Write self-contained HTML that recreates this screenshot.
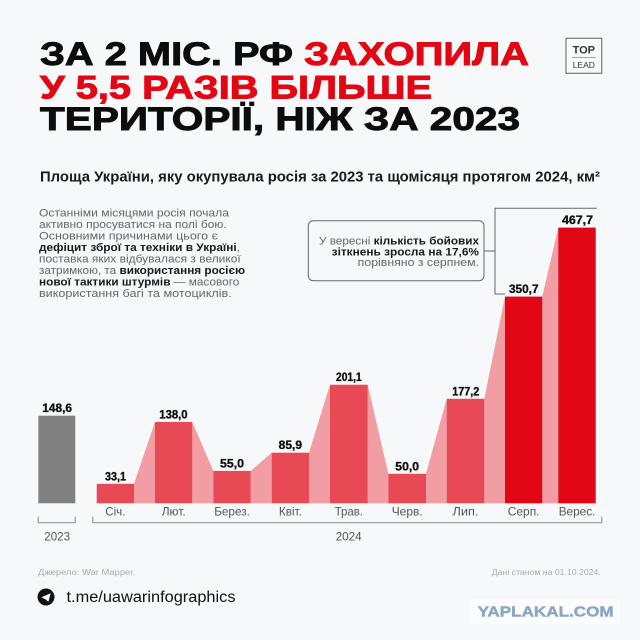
<!DOCTYPE html>
<html>
<head>
<meta charset="utf-8">
<style>
  html,body{margin:0;padding:0;background:#f6f8fa;}
  svg{display:block;}
  text{font-family:"Liberation Sans","DejaVu Sans",sans-serif;}
</style>
</head>
<body>
<svg width="640" height="640" viewBox="0 0 640 640" xmlns="http://www.w3.org/2000/svg">
  <rect x="0" y="0" width="640" height="640" fill="#f6f8fa"/>

  <!-- Title -->
  <g font-weight="bold" font-size="32" stroke-width="0.9" lengthAdjust="spacingAndGlyphs">
    <text x="40" y="65" fill="#0d0d0d" stroke="#0d0d0d" textLength="253" lengthAdjust="spacingAndGlyphs">ЗА 2 МІС. РФ</text>
    <text x="304" y="65" fill="#e30613" stroke="#e30613" textLength="225" lengthAdjust="spacingAndGlyphs">ЗАХОПИЛА</text>
    <text x="40" y="98.3" fill="#e30613" stroke="#e30613" textLength="392" lengthAdjust="spacingAndGlyphs">У 5,5 РАЗІВ БІЛЬШЕ</text>
    <text x="40" y="130" fill="#0d0d0d" stroke="#0d0d0d" textLength="480" lengthAdjust="spacingAndGlyphs">ТЕРИТОРІЇ, НІЖ ЗА 2023</text>
  </g>

  <!-- TOP LEAD logo -->
  <rect x="566" y="38.3" width="35.7" height="35" fill="#fbfcfd" stroke="#777" stroke-width="1.2"/>
  <text x="583.8" y="53.5" font-size="11" font-weight="bold" fill="#333" text-anchor="middle">TOP</text>
  <line x1="572" y1="57.5" x2="596" y2="57.5" stroke="#d58aa0" stroke-width="1"/>
  <text x="583.8" y="68" font-size="8.5" fill="#333" text-anchor="middle">LEAD</text>

  <!-- Subtitle -->
  <text x="40" y="181.7" font-size="14.5" font-weight="bold" fill="#1a1a1a" textLength="560" lengthAdjust="spacingAndGlyphs">Площа України, яку окупувала росія за 2023 та щомісяця протягом 2024, км²</text>

  <!-- Left paragraph -->
  <g font-size="11" fill="#666">
    <text x="39" y="216.5" textLength="190" lengthAdjust="spacingAndGlyphs">Останніми місяцями росія почала</text>
    <text x="39" y="228" textLength="187.7" lengthAdjust="spacingAndGlyphs">активно просуватися на полі бою.</text>
    <text x="39" y="239.5" textLength="179" lengthAdjust="spacingAndGlyphs">Основними причинами цього є</text>
    <text x="39" y="251" textLength="201" lengthAdjust="spacingAndGlyphs"><tspan font-weight="bold" fill="#1a1a1a">дефіцит зброї та техніки в Україні</tspan>,</text>
    <text x="39" y="262.5" textLength="201.7" lengthAdjust="spacingAndGlyphs">поставка яких відбувалася з великої</text>
    <text x="39" y="274" textLength="206" lengthAdjust="spacingAndGlyphs">затримкою, та <tspan font-weight="bold" fill="#1a1a1a">використання росією</tspan></text>
    <text x="39" y="285.5" textLength="200.3" lengthAdjust="spacingAndGlyphs"><tspan font-weight="bold" fill="#1a1a1a">нової тактики штурмів</tspan> — масового</text>
    <text x="39" y="297" textLength="192.7" lengthAdjust="spacingAndGlyphs">використання багі та мотоциклів.</text>
  </g>

  <!-- Callout -->
  <rect x="308.3" y="220.7" width="175.7" height="60" rx="5" ry="5" fill="none" stroke="#666" stroke-width="1"/>
  <path d="M484,251 H495 M596.7,208.3 H495 V294 H505" fill="none" stroke="#666" stroke-width="1"/>
  <g font-size="11" fill="#666">
    <text x="319" y="244.5" textLength="160" lengthAdjust="spacingAndGlyphs">У вересні <tspan font-weight="bold" fill="#1a1a1a">кількість бойових</tspan></text>
    <text x="331.7" y="255.5" textLength="147.3" lengthAdjust="spacingAndGlyphs" font-weight="bold" fill="#1a1a1a">зіткнень зросла на 17,6%</text>
    <text x="357.7" y="266.2" textLength="121.3" lengthAdjust="spacingAndGlyphs">порівняно з серпнем.</text>
  </g>

  <!-- Connectors -->
  <g fill="#f29ca4">
    <polygon points="134,503.3 134,483.8 155,421.95 155,503.3"/>
    <polygon points="192.3,503.3 192.3,421.95 213.3,470.9 213.3,503.3"/>
    <polygon points="250.7,503.3 250.7,470.9 271.7,452.7 271.7,503.3"/>
    <polygon points="309,503.3 309,452.7 330,384.75 330,503.3"/>
    <polygon points="367.7,503.3 367.7,384.75 388.3,473.8 388.3,503.3"/>
    <polygon points="426,503.3 426,473.8 446.7,398.8 446.7,503.3"/>
    <polygon points="484.3,503.3 484.3,398.8 505,296.6 505,503.3"/>
    <polygon points="542.3,503.3 542.3,296.6 558.3,227.6 558.3,503.3"/>
  </g>

  <!-- Bars -->
  <rect x="38.3" y="415.7" width="37" height="87.6" fill="#808080"/>
  <g fill="#e84a55">
    <rect x="96.7" y="483.8" width="37.3" height="19.5"/>
    <rect x="155" y="421.95" width="37.3" height="81.35"/>
    <rect x="213.3" y="470.9" width="37.4" height="32.4"/>
    <rect x="271.7" y="452.7" width="37.3" height="50.6"/>
    <rect x="330" y="384.75" width="37.7" height="118.55"/>
    <rect x="388.3" y="473.8" width="37.7" height="29.5"/>
    <rect x="446.7" y="398.8" width="37.6" height="104.5"/>
  </g>
  <g fill="#e10613">
    <rect x="505" y="296.6" width="37.3" height="206.7"/>
    <rect x="558.3" y="227.6" width="37.4" height="275.7"/>
  </g>

  <!-- Value labels -->
  <g font-size="11.5" font-weight="bold" fill="#111" stroke="#111" stroke-width="0.35">
    <text x="42.3" y="412.2" textLength="29.7" lengthAdjust="spacingAndGlyphs">148,6</text>
    <text x="105" y="480.3" textLength="21" lengthAdjust="spacingAndGlyphs">33,1</text>
    <text x="159.3" y="418.4" textLength="28.3" lengthAdjust="spacingAndGlyphs">138,0</text>
    <text x="220" y="467.4" textLength="24" lengthAdjust="spacingAndGlyphs">55,0</text>
    <text x="278.7" y="449.2" textLength="23.3" lengthAdjust="spacingAndGlyphs">85,9</text>
    <text x="336" y="381.2" textLength="25.7" lengthAdjust="spacingAndGlyphs">201,1</text>
    <text x="395.3" y="470.3" textLength="23.7" lengthAdjust="spacingAndGlyphs">50,0</text>
    <text x="452.3" y="395.3" textLength="27" lengthAdjust="spacingAndGlyphs">177,2</text>
    <text x="509" y="293.1" textLength="29.5" lengthAdjust="spacingAndGlyphs">350,7</text>
    <text x="562" y="224.1" textLength="31" lengthAdjust="spacingAndGlyphs">467,7</text>
  </g>

  <!-- Month labels -->
  <g font-size="12" fill="#555">
    <text x="105.3" y="515.7" textLength="20" lengthAdjust="spacingAndGlyphs">Січ.</text>
    <text x="161.7" y="515.7" textLength="24" lengthAdjust="spacingAndGlyphs">Лют.</text>
    <text x="214.2" y="515.7" textLength="35.7" lengthAdjust="spacingAndGlyphs">Берез.</text>
    <text x="278.9" y="515.7" textLength="23" lengthAdjust="spacingAndGlyphs">Квіт.</text>
    <text x="334.7" y="515.7" textLength="28.3" lengthAdjust="spacingAndGlyphs">Трав.</text>
    <text x="391.7" y="515.7" textLength="31" lengthAdjust="spacingAndGlyphs">Черв.</text>
    <text x="452.5" y="515.7" textLength="26" lengthAdjust="spacingAndGlyphs">Лип.</text>
    <text x="507.8" y="515.7" textLength="31.7" lengthAdjust="spacingAndGlyphs">Серп.</text>
    <text x="558.7" y="515.7" textLength="36.7" lengthAdjust="spacingAndGlyphs">Верес.</text>
  </g>

  <!-- Brackets -->
  <path d="M38.3,516.7 V522.7 H75.3 V516.7" fill="none" stroke="#999" stroke-width="1.2"/>
  <path d="M92.7,516.7 V522.7 H601.7 V516.7" fill="none" stroke="#999" stroke-width="1.2"/>
  <g font-size="12" fill="#555">
    <text x="44.3" y="540.5" textLength="25.7" lengthAdjust="spacingAndGlyphs">2023</text>
    <text x="335.7" y="540.5" textLength="26" lengthAdjust="spacingAndGlyphs">2024</text>
  </g>

  <!-- Footer -->
  <g font-size="8" fill="#aaa">
    <text x="38" y="575" textLength="97.5" lengthAdjust="spacingAndGlyphs">Джерело: War Mapper.</text>
    <text x="491.8" y="575" textLength="109" lengthAdjust="spacingAndGlyphs">Дані станом на 01.10.2024.</text>
  </g>
  <circle cx="46" cy="597" r="8.5" fill="#111"/>
  <path d="M41.3,597.4 L50.6,593.2 L48.4,601.9 L45.6,599.4 Z" fill="#fff"/>
  <text x="66.5" y="602" font-size="15.5" fill="#111" textLength="169" lengthAdjust="spacingAndGlyphs">t.me/uawarinfographics</text>

  <rect x="470" y="599" width="150" height="25" fill="#ffffff" opacity="0.5"/>
  <text x="477.6" y="616.5" font-size="15" font-weight="bold" fill="#8ba6c3" stroke="#8ba6c3" stroke-width="0.4" textLength="136" lengthAdjust="spacingAndGlyphs">YAPLAKAL.COM</text>
</svg>
</body>
</html>
